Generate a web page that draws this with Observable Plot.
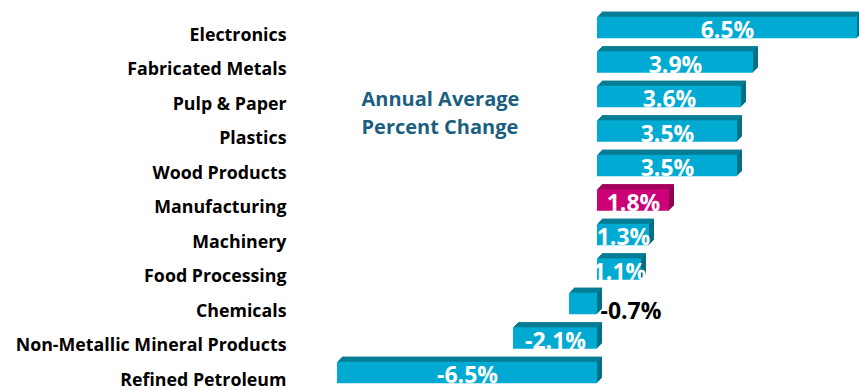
<!DOCTYPE html>
<html>
<head>
<meta charset="utf-8">
<script src="https://cdn.jsdelivr.net/npm/d3@7"></script>
<script src="https://cdn.jsdelivr.net/npm/@observablehq/plot@0.6"></script>
<style>
  html, body { margin: 0; padding: 0; background: #ffffff; }
  #chart svg { display: block; }
</style>
</head>
<body>
<div id="chart"></div>
<script>
const categories = ["Electronics", "Fabricated Metals", "Pulp & Paper", "Plastics", "Wood Products", "Manufacturing", "Machinery", "Food Processing", "Chemicals", "Non-Metallic Mineral Products", "Refined Petroleum"];
const values = [6.5, 3.9, 3.6, 3.5, 3.5, 1.8, 1.3, 1.1, -0.7, -2.1, -6.5];
const valueLabels = ["6.5%", "3.9%", "3.6%", "3.5%", "3.5%", "1.8%", "1.3%", "1.1%", "-0.7%", "-2.1%", "-6.5%"];
const highlight = "Manufacturing";
const annotation = "Annual Average\nPercent Change";

const data = categories.map((c, i) => ({
  category: c,
  value: values[i],
  label: valueLabels[i],
  hl: c === highlight
}));

const frontColor = d => d.hl ? "#CC0077" : "#00AAD2";
const sideColor = d => d.hl ? "#8E0052" : "#006F88";
const topColor = d => d.hl ? "#A8005F" : "#0A8199";

const depth = 5;
const marks = [];
// extrusion (side faces) as stacked offset rects
for (let k = depth; k >= 1; k--) {
  marks.push(Plot.barX(data, {x1: 0, x2: "value", y: "category", fill: sideColor, dx: k, dy: -k}));
}
// top faces as 1px strips
for (let k = depth; k >= 1; k--) {
  marks.push(Plot.barX(data, {x1: 0, x2: "value", y: "category", fill: topColor, dx: k, dy: -k, insetBottom: 20.5}));
}
// front faces
marks.push(Plot.barX(data, {x1: 0, x2: "value", y: "category", fill: frontColor}));
// value labels inside bars
marks.push(Plot.text(data.filter(d => Math.abs(d.value) >= 1), {
  x: d => d.value / 2, y: "category", text: "label",
  fill: "white", fontSize: 23, fontWeight: "bold", dy: 3
}));
// small negative label outside
marks.push(Plot.text(data.filter(d => Math.abs(d.value) < 1), {
  x: 0, y: "category", text: "label", textAnchor: "start",
  fill: "black", fontSize: 23, fontWeight: "bold", dx: 3, dy: 8
}));
// annotation
marks.push(Plot.text([annotation], {
  x: -5.9, y: () => "Pulp & Paper", text: d => d, textAnchor: "start",
  fill: "#1B5F80", fontSize: 20, fontWeight: "bold", lineHeight: 1.4, dy: 14
}));
// category axis
marks.push(Plot.axisY({
  tickSize: 0, tickPadding: 51, fontSize: 17.8, fontWeight: "bold",
  fill: "black", dy: 7, label: null
}));

const chart = Plot.plot({
  width: 859,
  height: 390,
  marginLeft: 337,
  marginRight: 2,
  marginTop: 0,
  marginBottom: 0,
  style: {fontFamily: "'Open Sans', Lato, sans-serif", background: "white"},
  x: {domain: [-6.5, 6.5], axis: null},
  y: {domain: categories, range: [10.25, 389.75], paddingInner: 0.377, paddingOuter: 0.1885, round: false, axis: null},
  marks
});
document.getElementById("chart").appendChild(chart);
</script>
</body>
</html>
